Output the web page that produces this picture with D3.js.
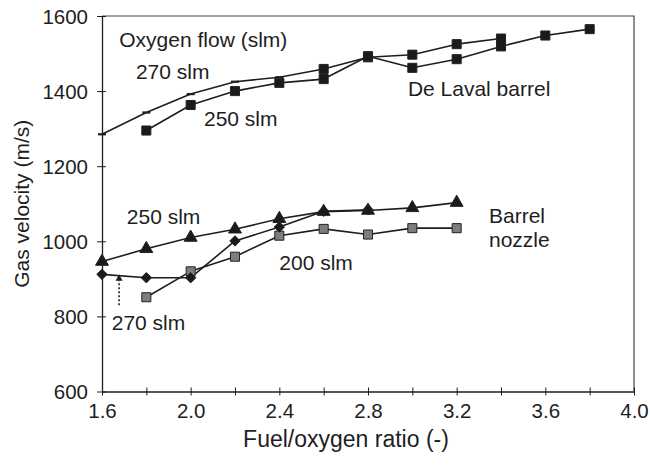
<!DOCTYPE html>
<html>
<head>
<meta charset="utf-8">
<script src="https://cdn.jsdelivr.net/npm/d3@7/dist/d3.min.js"></script>
<style>
  html, body { margin: 0; padding: 0; background: #fff; }
  svg { display: block; font-family: "Liberation Sans", Arial, sans-serif; }
</style>
</head>
<body>
<svg id="chart" width="650" height="467"></svg>
<script>
// Fuel/oxygen ratio values (x) and measured gas velocity (m/s)
const delaval270Ratio = [1.6, 1.8, 2.0, 2.2, 2.4, 2.6, 2.8, 3.0, 3.2, 3.4];
const delaval270Vel   = [1285, 1343, 1392, 1425, 1437, 1459, 1490, 1497, 1525, 1540];

const delaval250Ratio = [1.8, 2.0, 2.2, 2.4, 2.6, 2.8, 3.0, 3.2, 3.4, 3.6, 3.8];
const delaval250Vel   = [1295, 1363, 1400, 1422, 1432, 1493, 1462, 1485, 1519, 1548, 1565];

const barrel250Ratio = [1.6, 1.8, 2.0, 2.2, 2.4, 2.6, 2.8, 3.0, 3.2];
const barrel250Vel   = [946, 980, 1010, 1032, 1060, 1079, 1082, 1089, 1103];

const barrel270Ratio = [1.6, 1.8, 2.0, 2.2, 2.4, 2.6, 2.8];
const barrel270Vel   = [912, 903, 903, 1001, 1038, 1080, 1084];

const barrel200Ratio = [1.8, 2.0, 2.2, 2.4, 2.6, 2.8, 3.0, 3.2];
const barrel200Vel   = [851, 920, 959, 1015, 1033, 1018, 1035, 1035];

const yTicks = [600, 800, 1000, 1200, 1400, 1600];
const xTicks = [1.6, 1.8, 2.0, 2.2, 2.4, 2.6, 2.8, 3.0, 3.2, 3.4, 3.6, 3.8, 4.0];
const xLabelTicks = [1.6, 2.0, 2.4, 2.8, 3.2, 3.6, 4.0];

const xTitle = "Fuel/oxygen ratio (-)";
const yTitle = "Gas velocity (m/s)";

// In-plot labels: [text, ratio, velocity] anchored at the text's left baseline
const labels = [
  ["Oxygen flow (slm)", 1.678, 1518],
  ["270 slm", 1.753, 1433],
  ["250 slm", 2.06, 1308],
  ["De Laval barrel", 2.98, 1386],
  ["250 slm", 1.712, 1045],
  ["200 slm", 2.4, 923],
  ["270 slm", 1.644, 763],
  ["Barrel", 3.346, 1048],
  ["nozzle", 3.346, 984]
];

// Pointer from the "270 slm" label up to the diamond series
const arrowRatio = 1.677;
const arrowFrom = 830;
const arrowTo = 906;

// Points of the 270 slm De Laval curve up to this ratio carry only a dash marker
const DASH_MARKER_UNTIL = 2.4;

const W = 650, H = 467;
const margin = { left: 102, right: 16, top: 16, bottom: 75.5 };
const svg = d3.select("#chart");

const x = d3.scaleLinear().domain([1.6, 4.0]).range([margin.left, W - margin.right]);
const y = d3.scaleLinear().domain([600, 1600]).range([H - margin.bottom, margin.top]);

const ink = "#1e1e1e";
const fontSize = 21;
const tickFont = 20.5;

// Plot frame (top and right sides)
svg.append("path")
  .attr("d", `M${x(1.6)},${y(1600)}H${x(4.0)}V${y(600)}`)
  .attr("fill", "none").attr("stroke", "#444").attr("stroke-width", 1.2);

// Axes
const xAxis = d3.axisBottom(x).tickValues(xTicks)
  .tickSizeInner(4).tickSizeOuter(0)
  .tickFormat(d => xLabelTicks.some(v => Math.abs(v - d) < 1e-9) ? d3.format(".1f")(d) : "");
const gx = svg.append("g").attr("transform", `translate(0,${y(600)})`).call(xAxis);
gx.select(".domain").attr("stroke", ink).attr("stroke-width", 1.3);
gx.selectAll(".tick line").attr("y1", -4).attr("y2", 4).attr("stroke", ink).attr("stroke-width", 1);
gx.selectAll(".tick text").attr("font-size", tickFont).attr("fill", ink)
  .attr("y", 12).attr("dy", "0.71em").attr("font-family", "Liberation Sans, Arial, sans-serif");

const yAxis = d3.axisLeft(y).tickValues(yTicks).tickSizeInner(5).tickSizeOuter(0)
  .tickFormat(d3.format("d"));
const gy = svg.append("g").attr("transform", `translate(${x(1.6)},0)`).call(yAxis);
gy.select(".domain").attr("stroke", ink).attr("stroke-width", 1.3);
gy.selectAll(".tick line").attr("x1", -5).attr("x2", 4).attr("stroke", ink).attr("stroke-width", 1);
gy.selectAll(".tick text").attr("font-size", tickFont).attr("fill", ink)
  .attr("x", -14).attr("dy", "0.36em").attr("font-family", "Liberation Sans, Arial, sans-serif");

// Axis titles
svg.append("text").text(xTitle)
  .attr("x", 346).attr("y", 447)
  .attr("text-anchor", "middle").attr("font-size", 23).attr("fill", ink);
svg.append("text").text(yTitle)
  .attr("transform", `translate(29,${(y(600) + y(1600)) / 2}) rotate(-90)`)
  .attr("text-anchor", "middle").attr("font-size", fontSize).attr("fill", ink);

// Series
const zip = (xs, ys) => xs.map((r, i) => ({ r, v: ys[i] }));
const line = d3.line().x(d => x(d.r)).y(d => y(d.v));

const series = [
  { pts: zip(delaval270Ratio, delaval270Vel), marker: "square270", fill: "#1a1a1a" },
  { pts: zip(delaval250Ratio, delaval250Vel), marker: "square", fill: "#1a1a1a" },
  { pts: zip(barrel200Ratio, barrel200Vel), marker: "square", fill: "#7d7d7d" },
  { pts: zip(barrel270Ratio, barrel270Vel), marker: "diamond", fill: "#1a1a1a" },
  { pts: zip(barrel250Ratio, barrel250Vel), marker: "triangle", fill: "#1a1a1a" }
];

series.forEach(s => {
  svg.append("path").datum(s.pts).attr("d", line)
    .attr("fill", "none").attr("stroke", ink).attr("stroke-width", 1.6)
    .attr("stroke-linejoin", "round");
});

const sym = {
  square: () => d3.symbol().type(d3.symbolSquare).size(82)(),
  diamond: () => "M0,-5.2L5.2,0L0,5.2L-5.2,0Z",
  triangle: () => d3.symbol().type(d3.symbolTriangle).size(72)()
};

series.forEach(s => {
  const g = svg.append("g");
  s.pts.forEach(p => {
    let kind = s.marker;
    if (kind === "square270") {
      if (p.r <= DASH_MARKER_UNTIL + 1e-9) {
        g.append("line")
          .attr("x1", x(p.r) - 4).attr("x2", x(p.r) + 4)
          .attr("y1", y(p.v)).attr("y2", y(p.v))
          .attr("stroke", ink).attr("stroke-width", 2.2);
        return;
      }
      kind = "square";
    }
    g.append("path").attr("d", sym[kind]())
      .attr("transform", `translate(${x(p.r)},${y(p.v)})`)
      .attr("fill", s.fill).attr("stroke", "#222").attr("stroke-width", 1);
  });
});

// Dotted pointer with a small arrow head
svg.append("line")
  .attr("x1", x(arrowRatio)).attr("x2", x(arrowRatio))
  .attr("y1", y(arrowFrom)).attr("y2", y(arrowTo) + 4)
  .attr("stroke", ink).attr("stroke-width", 1.6).attr("stroke-dasharray", "2,2");
svg.append("path")
  .attr("d", d3.symbol().type(d3.symbolTriangle).size(22)())
  .attr("transform", `translate(${x(arrowRatio)},${y(arrowTo) + 2})`)
  .attr("fill", ink);

// Annotation labels
svg.append("g").selectAll("text").data(labels).join("text")
  .text(d => d[0])
  .attr("x", d => x(d[1])).attr("y", d => y(d[2]))
  .attr("font-size", fontSize).attr("fill", ink);
</script>
</body>
</html>
